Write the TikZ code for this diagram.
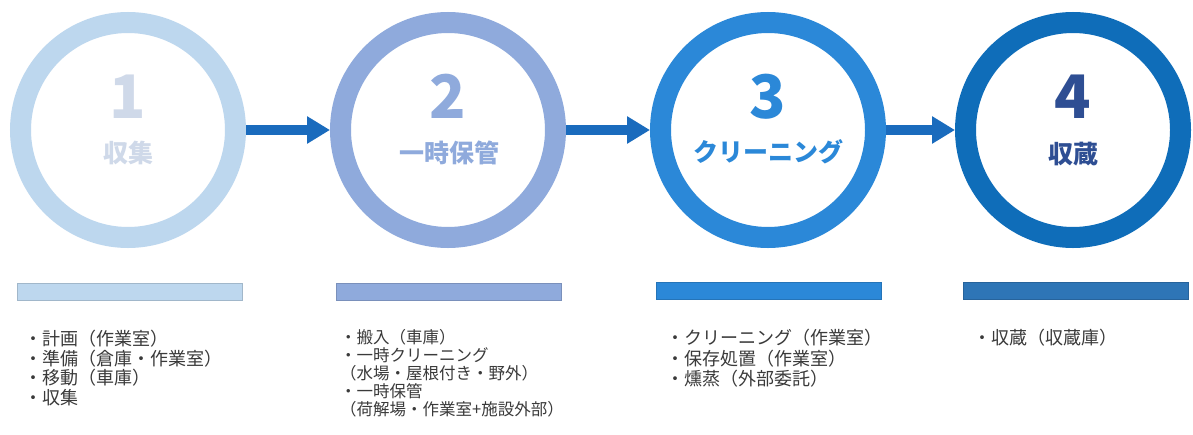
\documentclass[tikz,border=0pt]{standalone}
\usepackage{fontspec}
\setmainfont{Noto Sans CJK JP}
\usetikzlibrary{arrows.meta}
\definecolor{ringA}{HTML}{BDD7EE}
\definecolor{ringB}{HTML}{8FAADC}
\definecolor{ringC}{HTML}{2B88D8}
\definecolor{ringD}{HTML}{0F6DB9}
\definecolor{barD}{HTML}{2E75B6}
\definecolor{arrowc}{HTML}{1A6BBD}
\definecolor{txtA}{HTML}{CFD9E9}
\definecolor{txtD}{HTML}{2E4E93}
\definecolor{listc}{HTML}{3A3A3A}
\tikzset{
  ring/.style={circle, draw=#1, line width=21pt, minimum size=215pt, inner sep=0pt},
  numtxt/.style={text=#1, font=\fontsize{60}{60}\selectfont\bfseries, inner sep=0pt},
  labtxt/.style={text=#1, font=\fontsize{25}{25}\selectfont\bfseries, inner sep=0pt},
  bar/.style={rectangle, fill=#1, draw=#1!85!black, line width=0.6pt, minimum width=225pt, minimum height=17pt, inner sep=0pt},
  flow/.style={draw=arrowc, line width=10pt, -{Triangle[length=23pt,width=26pt]}},
  listtxt/.style={text=listc, font=\fontsize{18}{19.5}\selectfont, align=left, anchor=north west, inner sep=0pt}
}
\begin{document}
\begin{tikzpicture}[x=1pt,y=-1pt]
\useasboundingbox[fill=white] (0,0) rectangle (1193,434);
% rings
\node[ring=ringA] (c1) at (128,130) {};
\node[ring=ringB] (c2) at (448,130) {};
\node[ring=ringC] (c3) at (768,130) {};
\node[ring=ringD] (c4) at (1073,130) {};
% numbers and labels
\node[numtxt=txtA] (n1) at (128,97) {1};
\node[labtxt=txtA] (l1) at (128,153) {収集};
\node[numtxt=ringB] (n2) at (448,96) {2};
\node[labtxt=ringB] (l2) at (449,153) {一時保管};
\node[numtxt=ringC] (n3) at (768,97) {3};
\node[labtxt=ringC] (l3) at (768,152) {クリーニング};
\node[numtxt=txtD] (n4) at (1073,97) {4};
\node[labtxt=txtD] (l4) at (1073,154) {収蔵};
% arrows
\draw[flow] (c1) -- (c2);
\draw[flow] (c2) -- (c3);
\draw[flow] (c3) -- (c4);
% bars
\node[bar=ringA] (b1) at (129.5,291.5) {};
\node[bar=ringB] (b2) at (449,291.5) {};
\node[bar=ringC] (b3) at (769,291) {};
\node[bar=barD] (b4) at (1076,291) {};
% lists
\node[listtxt] (t1) at (24,330) {・計画（作業室）\\・準備（倉庫・作業室）\\・移動（車庫）\\・収集};
\node[listtxt, font=\fontsize{16.5}{18}\selectfont] (t2) at (340,329) {・搬入（車庫）\\・一時クリーニング\\（水場・屋根付き・野外）\\・一時保管\\（荷解場・作業室+施設外部）};
\node[listtxt, font=\fontsize{18}{20.5}\selectfont] (t3) at (666,329) {・クリーニング（作業室）\\・保存処置（作業室）\\・燻蒸（外部委託）};
\node[listtxt] (t4) at (973,329) {・収蔵（収蔵庫）};
\end{tikzpicture}
\end{document}
